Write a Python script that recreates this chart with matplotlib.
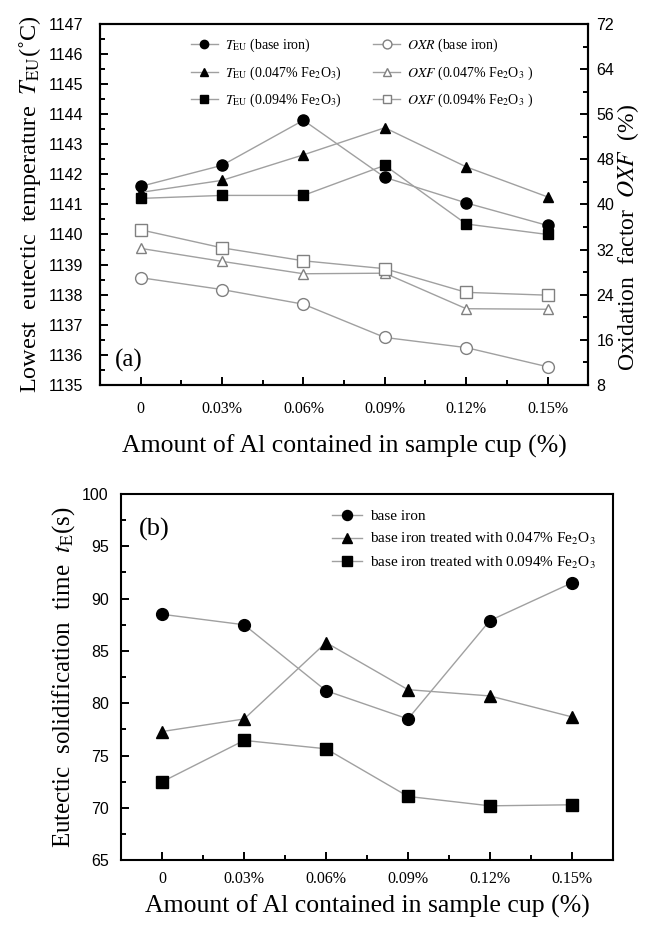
import matplotlib
matplotlib.use('Agg')
import matplotlib.pyplot as plt
from matplotlib.ticker import MultipleLocator

plt.rcParams['mathtext.fontset'] = 'stix'

al_labels = ['0', '0.03%', '0.06%', '0.09%', '0.12%', '0.15%']
x = list(range(len(al_labels)))

# (a) lowest eutectic temperature (left axis) and oxidation factor (right axis)
t_base = [1141.6, 1142.3, 1143.8, 1141.9, 1141.05, 1140.3]
t_047 = [1141.4, 1141.8, 1142.65, 1143.55, 1142.25, 1141.25]
t_094 = [1141.2, 1141.3, 1141.3, 1142.3, 1140.35, 1140.0]
oxr_base = [27.0, 24.9, 22.3, 16.4, 14.6, 11.2]
oxf_047 = [32.2, 29.9, 27.7, 27.8, 21.5, 21.4]
oxf_094 = [35.5, 32.3, 30.0, 28.6, 24.4, 23.9]

# (b) eutectic solidification time
te_base = [88.5, 87.5, 81.2, 78.5, 87.9, 91.5]
te_047 = [77.3, 78.5, 85.8, 81.3, 80.7, 78.7]
te_094 = [72.5, 76.45, 75.65, 71.1, 70.2, 70.3]

serif = 'Liberation Serif'
sans = 'Liberation Sans'
lc = '#a0a0a0'
oc = '#808080'

fig = plt.figure(figsize=(6.45, 9.25), dpi=100)

# ---------- panel (a) ----------
ax = fig.add_axes([0.155, 0.584, 0.757, 0.390])
ax2 = ax.twinx()
h1, = ax.plot(x, t_base, '-o', color=lc, lw=1, mfc='k', mec='k', ms=8)
h2, = ax.plot(x, t_047, '-^', color=lc, lw=1, mfc='k', mec='k', ms=7.5)
h3, = ax.plot(x, t_094, '-s', color=lc, lw=1, mfc='k', mec='k', ms=7.5)
h4, = ax2.plot(x, oxr_base, '-o', color=lc, lw=1, mfc='white', mec=oc, ms=8.5)
h5, = ax2.plot(x, oxf_047, '-^', color=lc, lw=1, mfc='white', mec=oc, ms=7.5)
h6, = ax2.plot(x, oxf_094, '-s', color=lc, lw=1, mfc='white', mec=oc, ms=8)

ax.set_xlim(-0.5, 5.5)
ax.set_ylim(1135, 1147)
ax2.set_ylim(8, 72)
ax.yaxis.set_major_locator(MultipleLocator(1))
ax.yaxis.set_minor_locator(MultipleLocator(0.5))
ax2.yaxis.set_major_locator(MultipleLocator(8))
ax2.yaxis.set_minor_locator(MultipleLocator(4))
ax.set_xticks(x)
ax.set_xticks([i + 0.5 for i in x[:-1]], minor=True)
ax.set_xticklabels(al_labels, fontfamily=serif, fontsize=12)
for a in (ax, ax2):
    for s in a.spines.values():
        s.set_linewidth(1.5)
ax.tick_params(which='both', direction='in', width=1.4, labelsize=11.5)
ax.tick_params(which='major', length=6)
ax.tick_params(which='minor', length=3.5)
ax.tick_params(axis='x', pad=12)
ax.tick_params(axis='y', pad=12)
ax2.tick_params(which='both', direction='in', width=1.4, labelsize=11.5, pad=6)
ax2.tick_params(which='major', length=6)
ax2.tick_params(which='minor', length=3.5)
for lab in ax.get_yticklabels() + ax2.get_yticklabels():
    lab.set_fontfamily(sans)

ax.set_ylabel(r'Lowest  eutectic  temperature  $T_{\rm EU}$(˚C)', fontfamily=serif, fontsize=17.5, labelpad=4)
ax2.set_ylabel(r'Oxidation  factor  $OXF$  (%)', fontfamily=serif, fontsize=17)
ax2.yaxis.set_label_coords(1.055, 0.41)
ax.set_xlabel('Amount of Al contained in sample cup (%)', fontfamily=serif, fontsize=18.5, labelpad=12)
ax.text(-0.32, 1135.6, '(a)', fontfamily=serif, fontsize=18)

ax.legend([h1, h2, h3, h4, h5, h6],
          [r'$T_{\rm EU}$ (base iron)', r'$T_{\rm EU}$ (0.047% Fe$_2$O$_3$)',
           r'$T_{\rm EU}$ (0.094% Fe$_2$O$_3$)', r'$OXR$ (base iron)',
           r'$OXF$ (0.047% Fe$_2$O$_3$ )', r'$OXF$ (0.094% Fe$_2$O$_3$ )'],
          ncol=2, frameon=False, loc='upper left', bbox_to_anchor=(0.16, 1.0),
          prop={'family': serif, 'size': 10}, markerscale=0.75,
          handlelength=2.0, handletextpad=0.5, columnspacing=2.2, labelspacing=0.75)

# ---------- panel (b) ----------
bx = fig.add_axes([0.188, 0.070, 0.762, 0.396])
g1, = bx.plot(x, te_base, '-o', color=lc, lw=1, mfc='k', mec='k', ms=8.5)
g2, = bx.plot(x, te_047, '-^', color=lc, lw=1, mfc='k', mec='k', ms=8)
g3, = bx.plot(x, te_094, '-s', color=lc, lw=1, mfc='k', mec='k', ms=8.5)
bx.set_xlim(-0.5, 5.5)
bx.set_ylim(65, 100)
bx.yaxis.set_major_locator(MultipleLocator(5))
bx.yaxis.set_minor_locator(MultipleLocator(2.5))
bx.set_xticks(x)
bx.set_xticks([i + 0.5 for i in x[:-1]], minor=True)
bx.set_xticklabels(al_labels, fontfamily=serif, fontsize=12)
for s in bx.spines.values():
    s.set_linewidth(1.5)
bx.tick_params(which='both', direction='in', width=1.4, labelsize=11.5)
bx.tick_params(which='major', length=6)
bx.tick_params(which='minor', length=3.5)
bx.tick_params(axis='x', pad=8)
bx.tick_params(axis='y', pad=9)
for lab in bx.get_yticklabels():
    lab.set_fontfamily(sans)
bx.set_ylabel(r'Eutectic  solidification  time  $t_{\rm E}$(s)', fontfamily=serif, fontsize=18, labelpad=4)
bx.set_xlabel('Amount of Al contained in sample cup (%)', fontfamily=serif, fontsize=18.5, labelpad=5)
bx.text(-0.28, 96.0, '(b)', fontfamily=serif, fontsize=19)
bx.legend([g1, g2, g3],
          ['base iron', r'base iron treated with 0.047% Fe$_2$O$_3$',
           r'base iron treated with 0.094% Fe$_2$O$_3$'],
          frameon=False, loc='upper left', bbox_to_anchor=(0.4, 0.995),
          prop={'family': serif, 'size': 11}, markerscale=0.85,
          handlelength=2.0, handletextpad=0.5, labelspacing=0.5)

fig.savefig('out.png', dpi=100)
